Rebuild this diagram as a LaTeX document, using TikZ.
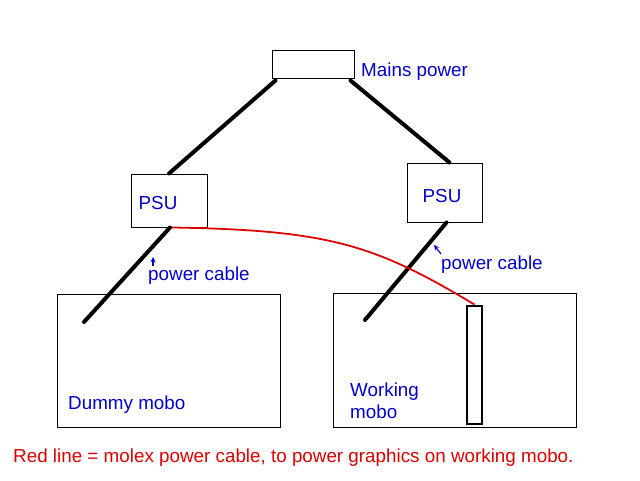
\documentclass[tikz,border=0pt]{standalone}
\usepackage{fontspec}
\setmainfont{Liberation Sans}
\definecolor{lblblue}{RGB}{0,0,200}
\definecolor{molexred}{RGB}{220,0,0}
\tikzset{
  box/.style={draw, line width=0.85pt, minimum width=#1, inner sep=0pt},
  cable/.style={line width=3.4pt, line cap=round},
  lbl/.style={text=lblblue, font=\fontsize{16}{18.7}\selectfont, inner sep=0pt},
}
\begin{document}
\begin{tikzpicture}[x=0.85pt, y=-0.85pt, >=stealth]
                \useasboundingbox (0,0) rectangle (640,480);
                % Boxes
                \node[box=82*0.85pt, minimum height=28*0.85pt] (mains) at (313,64) {};
                \node[box=76*0.85pt, minimum height=53*0.85pt] (psuL) at (169,200.5) {};
                \node[box=75*0.85pt, minimum height=59*0.85pt] (psuR) at (444.5,192.5) {};
                \node[box=223*0.85pt, minimum height=133*0.85pt] (moboL) at (168.5,360.5) {};
                \node[box=243*0.85pt, minimum height=134*0.85pt] (moboR) at (454.5,360) {};
                \node[draw, line width=2.5pt, minimum width=15*0.85pt, minimum height=118*0.85pt, inner sep=0pt] (slot) at (474.5,365) {};

                % Labels
                \node[lbl, anchor=west] (mainsTxt) at (361,72) {Mains power};
                \node[lbl] (psuLTxt) at (158,203) {PSU};
                \node[lbl] (psuRTxt) at (442,196) {PSU};
                \node[lbl, anchor=west] (dummyTxt) at (68,405) {Dummy mobo};
                \node[lbl, anchor=west, align=left] (workTxt) at (350,401) {Working\\mobo};
                \node[lbl, anchor=west] (capL) at (148,276) {power cable};
                \node[lbl, anchor=west] (capR) at (441,265) {power cable};

                % Cable ends inside the boards
                \coordinate (endL) at (84,322);
                \coordinate (endR) at (365,320);

                % Black power cables
                \draw[cable] (mains.south west) ++(4,2) coordinate (mL) -- (psuL.north);
                \draw[cable] (mains.south east) ++(-4,2) coordinate (mR) -- ([xshift=5*0.85pt]psuR.north);
                \draw[cable] ([xshift=1*0.85pt]psuL.south) -- (endL);
                \draw[cable] ([xshift=2*0.85pt]psuR.south) -- (endR);

                % Molex cable
                \draw[molexred, line width=1.5pt] ([xshift=3*0.85pt]psuL.south) .. controls (330,230) and (375,245) .. (slot.north);

                % Small pointers
                \draw[->, lblblue, line width=1pt] ([xshift=5*0.85pt, yshift=1*0.85pt]capL.north west) -- ++(0,-9);
                \draw[->, lblblue, line width=1pt] ([xshift=0*0.85pt, yshift=2*0.85pt]capR.north west) -- ++(-7,-9);

                \node[text=molexred, font=\fontsize{16}{18}\selectfont, anchor=west, inner sep=0pt] (note) at (13,458) {Red line = molex power cable, to power graphics on working mobo.};
            \end{tikzpicture}
\end{document}
